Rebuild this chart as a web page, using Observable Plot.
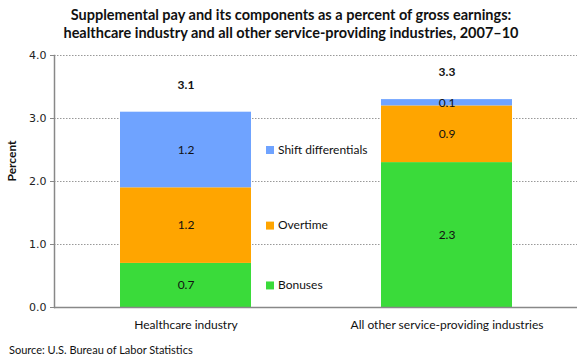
<!DOCTYPE html>
<html><head><meta charset="utf-8">
<script src="https://cdn.jsdelivr.net/npm/d3@7"></script>
<script src="https://cdn.jsdelivr.net/npm/@observablehq/plot@0.6"></script>
<style>
body{margin:0;background:#fff;width:580px;height:360px;overflow:hidden;font-family:Lato,sans-serif}
#title{height:46px;text-align:center;font-weight:bold;font-size:14.5px;line-height:18px;padding-top:6px;box-sizing:border-box;color:#111;padding-left:2px}
#chart svg{display:block}
#caption{font-size:11px;padding-left:9px;line-height:16px;color:#111;font-family:Lato,sans-serif}
</style></head><body>
<div id="title">Supplemental pay and its components as a percent of gross earnings:<br>healthcare industry and all other service-providing industries, 2007–10</div>
<div id="chart"></div>
<div id="caption">Source: U.S. Bureau of Labor Statistics</div>
<script>
const industries = ["Healthcare industry", "All other service-providing industries"];
const components = ["Bonuses", "Overtime", "Shift differentials"];
const bonuses = [0.7, 2.3];
const overtime = [1.2, 0.9];
const shiftDiff = [1.2, 0.1];
const totals = [3.1, 3.3];
const colors = ["#3ADB3A", "#FFA500", "#6FA3FF"];
const yTicks = [0, 1, 2, 3, 4];

const series = [bonuses, overtime, shiftDiff];
const rows = [];
industries.forEach((ind, i) => {
  components.forEach((c, j) => rows.push({industry: ind, component: c, value: series[j][i]}));
});
const totalRows = industries.map((ind, i) => ({industry: ind, total: totals[i]}));
const legendRows = rows.filter(d => d.industry === industries[0]);

const chart = Plot.plot({
  width: 580,
  height: 296,
  marginTop: 9,
  marginBottom: 35,
  marginLeft: 54,
  marginRight: 3,
  style: {fontFamily: "Lato, sans-serif", fontSize: "12px", color: "#111", background: "#fff"},
  x: {domain: industries, paddingInner: 0.5, paddingOuter: 0.25, label: null},
  y: {domain: [0, 4], label: null},
  color: {domain: components, range: colors},
  marks: [
    Plot.gridY(yTicks.filter(d => d > 0), {stroke: "#999", strokeOpacity: 1, strokeDasharray: "1.5,1.5"}),
    Plot.barY(rows, {x: "industry", y: "value", fill: "component", order: components}),
    Plot.text(rows, Plot.stackY({x: "industry", y: "value", z: "component", order: components,
      text: d => d.value.toFixed(1), fill: "#111", fontSize: 12})),
    Plot.text(totalRows, {x: "industry", y: "total", text: d => d.total.toFixed(1), dy: -27,
      fontWeight: "bold", fontSize: 12, fill: "#111"}),
    Plot.dot(legendRows, Plot.stackY({x: "industry", y: "value", z: "component", order: components,
      fill: "component", symbol: "square", r: 4.5, dx: 84, stroke: null})),
    Plot.text(legendRows, Plot.stackY({x: "industry", y: "value", z: "component", order: components,
      text: "component", dx: 92, textAnchor: "start", fill: "#111", fontSize: 12})),
    Plot.ruleY([0], {stroke: "#888", strokeWidth: 1.5}),
    Plot.frame({anchor: "left", stroke: "#888", strokeWidth: 1.5}),
    Plot.axisY({ticks: yTicks, tickFormat: d3.format(".1f"), tickSize: 4, tickPadding: 4,
      stroke: "#888", fill: "#222", fontFamily: "DejaVu Sans, sans-serif", fontSize: 11, label: null}),
    Plot.axisX({tickSize: 0, tickPadding: 13, fontSize: 12, fill: "#111", label: null}),
    Plot.text(["Percent"], {frameAnchor: "left", rotate: -90, dx: -42, fontWeight: "bold", fontSize: 12, fill: "#111"})
  ]
});
document.getElementById("chart").appendChild(chart);
</script>
</body></html>
